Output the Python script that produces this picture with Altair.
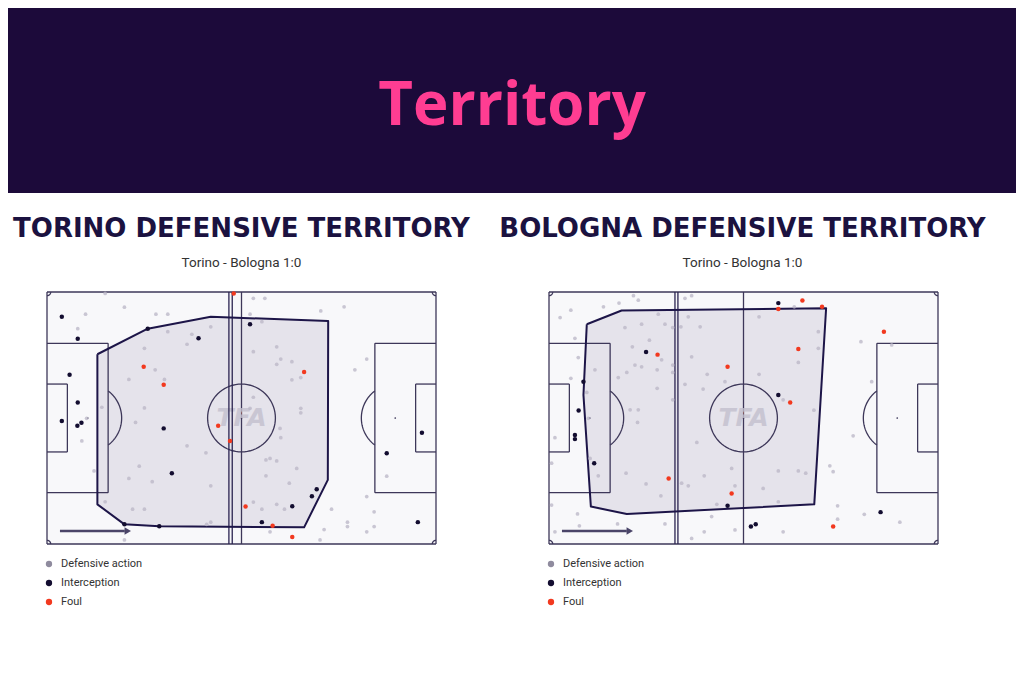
import altair as alt
import pandas as pd
import numpy as np

# ---------------- data (pitch coordinates, 105 x 68, attacking left -> right) ----------------
tor_def_x = [10.4, 20.9, 29.4, 32.6, 8.3, 32.6, 39.1, 37.8, 44.2, 26.3, 29.2, 22.1, 31.7, 26.3, 14.8, 15.7,
             10.7, 9.4, 23.9, 37.8, 42.9, 24.9, 12.7, 22.1, 28.4, 44.2, 15.7, 23.1, 26.3, 44.2, 43.1, 20.9,
             62.9, 63.1, 59.1, 60.2, 62.0, 67.4, 59.1, 65.4, 62.0, 64.1, 58.0, 55.7, 60.2, 73.7, 74.8, 76.8,
             81.1, 81.1, 86.3, 88.3, 88.3, 86.3, 91.7, 55.7, 58.8, 73.9, 80.2, 58.0, 54.8, 62.0, 55.7, 63.1,
             62.0, 66.1, 68.5, 66.1, 86.3, 83.1, 55.7, 54.8, 68.5, 68.5]
tor_def_y = [62.0, 63.9, 62.0, 62.0, 58.1, 57.3, 56.6, 53.9, 58.6, 52.8, 47.0, 44.4, 44.4, 36.7, 36.9, 67.6,
             33.9, 27.8, 32.8, 26.5, 24.6, 21.0, 19.7, 17.7, 16.8, 15.7, 11.4, 9.4, 9.4, 5.9, 5.3, 1.1,
             31.2, 28.7, 22.7, 23.1, 22.4, 20.4, 18.4, 16.4, 10.7, 9.4, 9.4, 11.3, 3.3, 1.1, 3.9, 9.4,
             5.9, 4.7, 12.8, 8.7, 4.7, 3.3, 18.3, 66.3, 66.3, 62.9, 64.0, 60.0, 62.0, 53.2, 51.9, 49.9,
             48.5, 49.2, 44.9, 44.3, 49.9, 47.0, 39.6, 36.6, 36.6, 35.4]
tor_int_x = [4.0, 8.3, 27.2, 40.9, 6.1, 8.3, 4.0, 8.2, 9.3, 31.5, 33.7, 20.9, 30.3, 54.8, 72.8, 71.5,
             66.2, 58.0, 91.7, 101.2, 100.1]
tor_int_y = [61.3, 55.4, 58.1, 55.5, 45.7, 38.2, 33.2, 31.9, 32.7, 31.2, 19.1, 5.3, 4.8, 59.3, 14.8, 12.9,
             10.2, 5.9, 24.5, 30.0, 5.9]
tor_foul_x = [26.1, 31.5, 50.4, 46.2, 49.4, 69.4, 53.6, 60.9, 66.2]
tor_foul_y = [47.8, 43.0, 67.6, 31.9, 27.8, 46.4, 10.1, 4.9, 1.9]
tor_zone_x = [13.6, 27.2, 44.2, 75.9, 75.8, 69.4, 30.3, 20.9, 13.6]
tor_zone_y = [51.2, 58.1, 61.3, 60.2, 17.3, 4.5, 4.8, 5.3, 10.7]
tor_line_x = [49.1, 50.0]

bol_def_x = [3.0, 5.9, 14.7, 18.9, 22.8, 24.1, 7.0, 7.9, 12.4, 5.9, 10.2, 18.7, 21.0, 23.2, 20.5, 25.0,
             29.5, 31.3, 33.4, 22.5, 27.1, 25.0, 30.4, 29.2, 33.4, 33.4, 29.2, 33.4, 24.1, 21.9, 36.7, 38.5,
             37.6, 40.8, 35.6, 38.5, 42.7, 36.7, 41.6, 47.5, 56.7, 66.2, 72.7, 72.7, 67.3, 56.7, 63.2, 71.5,
             84.2, 92.5, 87.1, 1.6, 10.6, 11.1, 13.3, 0.7, 20.8, 26.2, 30.2, 35.8, 37.6, 41.9, 49.3, 50.2,
             45.3, 23.9, 39.9, 7.7, 8.2, 18.5, 31.3, 38.5, 41.9, 43.9, 50.2, 1.6, 0.7, 82.1, 75.8, 76.7,
             61.9, 67.3, 69.3, 57.8, 61.9, 77.9, 77.9, 63.2, 85.1, 94.7]
bol_def_y = [61.1, 63.1, 64.0, 65.0, 67.0, 65.8, 55.5, 50.3, 47.0, 44.7, 40.9, 44.9, 46.3, 48.3, 58.4, 59.3,
             62.0, 59.3, 58.4, 53.2, 55.0, 47.8, 49.7, 47.0, 48.3, 46.3, 42.0, 38.9, 36.2, 36.2, 66.3, 67.0,
             61.3, 58.6, 58.6, 50.5, 45.8, 43.1, 41.8, 43.8, 61.3, 64.0, 57.3, 52.8, 49.0, 45.8, 38.9, 36.1,
             54.6, 53.7, 43.8, 28.7, 33.9, 23.1, 18.4, 21.8, 19.1, 16.2, 13.0, 16.4, 15.7, 18.4, 20.4, 15.7,
             10.7, 32.8, 27.4, 8.1, 4.9, 5.4, 5.4, 1.5, 3.3, 7.4, 3.8, 3.3, 10.5, 29.2, 21.1, 19.5,
             19.7, 19.7, 19.1, 15.0, 11.4, 10.3, 6.7, 3.3, 8.0, 5.9]
bol_int_x = [9.3, 8.0, 26.2, 61.9, 61.9, 7.0, 7.0, 12.2, 48.2, 54.5, 55.8, 89.5]
bol_int_y = [43.8, 36.0, 51.8, 65.0, 40.2, 29.4, 28.3, 21.8, 10.3, 4.7, 5.3, 8.6]
bol_foul_x = [29.3, 48.2, 61.9, 68.4, 73.7, 67.3, 65.1, 90.4, 32.3, 49.3, 76.7]
bol_foul_y = [51.1, 47.8, 63.4, 65.7, 64.0, 52.6, 38.2, 57.3, 17.7, 13.6, 4.7]
bol_zone_x = [10.2, 19.6, 74.8, 71.6, 21.0, 11.3, 9.3]
bol_zone_y = [59.3, 63.0, 63.6, 10.7, 8.1, 10.1, 40.2]
bol_line_x = [34.0, 34.8]

main_title = "Territory"
panel_titles = ["TORINO DEFENSIVE TERRITORY", "BOLOGNA DEFENSIVE TERRITORY"]
match_label = "Torino - Bologna 1:0"
legend_labels = ["Defensive action", "Interception", "Foul"]

# ---------------- styles ----------------
HEADER = "#1c0a3a"
PINK = "#ff3d92"
NAVY = "#1b1240"
LINE = "#3d3759"
PITCH_BG = "#f8f8fa"
ZONE_FILL = "#e5e3eb"
ZONE_STROKE = "#1d1548"
GREY_PT = "#b9b6c6"
GREY_LEG = "#8f8b9e"
BLACK_PT = "#130d30"
RED_PT = "#f2391f"

W, H = 1008, 667
Y_RANGE = [536, 284]
one = pd.DataFrame({"a": [0]})


def pitch_geometry():
    segs = [
        (0, 0, 105, 0), (0, 68, 105, 68), (0, 0, 0, 68), (105, 0, 105, 68),
        (52.5, 0, 52.5, 68),
        (0, 13.84, 16.5, 13.84), (0, 54.16, 16.5, 54.16), (16.5, 13.84, 16.5, 54.16),
        (105, 13.84, 88.5, 13.84), (105, 54.16, 88.5, 54.16), (88.5, 13.84, 88.5, 54.16),
        (0, 24.84, 5.5, 24.84), (0, 43.16, 5.5, 43.16), (5.5, 24.84, 5.5, 43.16),
        (105, 24.84, 99.5, 24.84), (105, 43.16, 99.5, 43.16), (99.5, 24.84, 99.5, 43.16),
    ]
    seg_df = pd.DataFrame(segs, columns=["x", "y", "x2", "y2"])
    arcs = []
    a = np.degrees(np.arccos(5.5 / 9.15))
    specs = [
        ("c", 52.5, 34, 9.15, 0, 360),
        ("pl", 11, 34, 9.15, -a, a),
        ("pr", 94, 34, 9.15, 180 - a, 180 + a),
        ("k1", 0, 0, 1, 0, 90), ("k2", 0, 68, 1, -90, 0),
        ("k3", 105, 0, 1, 90, 180), ("k4", 105, 68, 1, 180, 270),
    ]
    for name, cx, cy, r, t0, t1 in specs:
        t = np.radians(np.linspace(t0, t1, 73))
        for i, tt in enumerate(t):
            arcs.append({"g": name, "i": i, "x": cx + r * np.cos(tt), "y": cy + r * np.sin(tt)})
    arc_df = pd.DataFrame(arcs)
    spot_df = pd.DataFrame({"x": [11, 52.5, 94], "y": [34, 34, 34]})
    return seg_df, arc_df, spot_df


SEG_DF, ARC_DF, SPOT_DF = pitch_geometry()


def pitch_layers(xr, def_x, def_y, int_x, int_y, foul_x, foul_y, zone_x, zone_y, line_x):
    xs = alt.Scale(domain=[0, 105], range=xr, nice=False, zero=False)
    ys = alt.Scale(domain=[0, 68], range=Y_RANGE, nice=False, zero=False)

    def X(f):
        return alt.X(f, type="quantitative", scale=xs, axis=None)

    def Y(f):
        return alt.Y(f, type="quantitative", scale=ys, axis=None)

    layers = []
    bg = pd.DataFrame({"x": [0], "y": [0], "x2": [105], "y2": [68]})
    layers.append(alt.Chart(bg).mark_rect(color=PITCH_BG).encode(
        x=X("x"), y=Y("y"), x2="x2:Q", y2="y2:Q"))

    zone = pd.DataFrame({"x": zone_x + zone_x[:1], "y": zone_y + zone_y[:1],
                         "i": list(range(len(zone_x) + 1))})
    layers.append(alt.Chart(zone).mark_line(fill=ZONE_FILL, stroke=ZONE_FILL, strokeWidth=0.5).encode(
        x=X("x"), y=Y("y"), order="i:Q"))

    layers.append(alt.Chart(SEG_DF).mark_rule(color=LINE, strokeWidth=1.3).encode(
        x=X("x"), y=Y("y"), x2="x2:Q", y2="y2:Q"))
    layers.append(alt.Chart(ARC_DF).mark_line(color=LINE, strokeWidth=1.3).encode(
        x=X("x"), y=Y("y"), detail="g:N", order="i:Q"))
    layers.append(alt.Chart(SPOT_DF).mark_circle(color=LINE, size=3, opacity=1).encode(
        x=X("x"), y=Y("y")))

    tfa = pd.DataFrame({"x": [52.5], "y": [34], "t": ["TFA"]})
    layers.append(alt.Chart(tfa).mark_text(font="DejaVu Sans", fontWeight="bold", fontSize=25,
                                           fontStyle="italic", color="#c3c0ce", opacity=0.8,
                                           baseline="middle", align="center").encode(
        x=X("x"), y=Y("y"), text="t:N"))

    dl = pd.DataFrame({"x": line_x, "y": [0] * len(line_x), "y2": [68] * len(line_x)})
    layers.append(alt.Chart(dl).mark_rule(color="#2a2350", strokeWidth=1.3).encode(
        x=X("x"), y=Y("y"), y2="y2:Q"))

    layers.append(alt.Chart(zone).mark_line(color=ZONE_STROKE, strokeWidth=2, strokeJoin="round").encode(
        x=X("x"), y=Y("y"), order="i:Q"))

    arrow = pd.DataFrame({"x": [3.5], "x2": [21.0], "y": [3.5]})
    layers.append(alt.Chart(arrow).mark_rule(color="#4a4468", strokeWidth=2.5).encode(
        x=X("x"), x2="x2:Q", y=Y("y")))
    head = pd.DataFrame({"x": [21.8], "y": [3.5]})
    layers.append(alt.Chart(head).mark_point(shape="triangle-right", filled=True, color="#4a4468",
                                             size=55, opacity=1).encode(x=X("x"), y=Y("y")))

    for px, py, col, size, op in [(def_x, def_y, GREY_PT, 14, 0.75),
                                  (int_x, int_y, BLACK_PT, 20, 1),
                                  (foul_x, foul_y, RED_PT, 20, 1)]:
        d = pd.DataFrame({"x": px, "y": py})
        layers.append(alt.Chart(d).mark_circle(color=col, size=size, opacity=op).encode(
            x=X("x"), y=Y("y")))
    return layers


def text_layer(txt, x, y, size, color, font, weight="normal", align="center", baseline="alphabetic"):
    return alt.Chart(one).mark_text(text=txt, fontSize=size, color=color, font=font, fontWeight=weight,
                                    align=align, baseline=baseline).encode(
        x=alt.value(x), y=alt.value(y))


layers = []
layers.append(alt.Chart(one).mark_rect(color=HEADER).encode(
    x=alt.value(0), x2=alt.value(W), y=alt.value(0), y2=alt.value(185)))
layers.append(text_layer(main_title, 504, 117, 60, PINK, "Open Sans", "bold"))

centers = [233.5, 734.5]
for c, t in zip(centers, panel_titles):
    layers.append(text_layer(t, c, 229, 26, NAVY, "DejaVu Sans", "bold"))
    layers.append(text_layer(match_label, c, 259, 13.5, "#333333", "Roboto"))

layers += pitch_layers([39, 428], tor_def_x, tor_def_y, tor_int_x, tor_int_y, tor_foul_x, tor_foul_y,
                       tor_zone_x, tor_zone_y, tor_line_x)
layers += pitch_layers([541, 930], bol_def_x, bol_def_y, bol_int_x, bol_int_y, bol_foul_x, bol_foul_y,
                       bol_zone_x, bol_zone_y, bol_line_x)

leg_cols = [GREY_LEG, BLACK_PT, RED_PT]
leg_ys = [556, 575, 594]
for lx in [41, 543]:
    for lab, col, ly in zip(legend_labels, leg_cols, leg_ys):
        layers.append(alt.Chart(one).mark_circle(color=col, size=40, opacity=1).encode(
            x=alt.value(lx), y=alt.value(ly)))
        layers.append(text_layer(lab, lx + 12, ly, 11, "#333333", "Roboto", align="left", baseline="middle"))

chart = alt.layer(*layers).resolve_scale(x="independent", y="independent").properties(
    width=W, height=H, padding=0, autosize="none", background="white"
).configure_view(stroke=None)

chart.save("out.html", embed_options={"renderer": "svg", "actions": False})
